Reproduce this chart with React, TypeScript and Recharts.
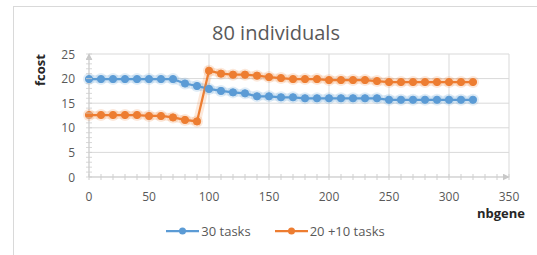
import { LineChart, Line, XAxis, YAxis, ReferenceLine, Legend } from 'recharts';

const nbgene = [0, 10, 20, 30, 40, 50, 60, 70, 80, 90, 100, 110, 120, 130, 140, 150, 160,
  170, 180, 190, 200, 210, 220, 230, 240, 250, 260, 270, 280, 290, 300, 310, 320];

const tasks30 = [19.9, 19.9, 19.9, 19.9, 19.9, 19.9, 19.9, 19.9, 19.0, 18.5, 17.9, 17.5, 17.2,
  17.0, 16.4, 16.4, 16.2, 16.2, 16.0, 16.0, 16.0, 16.0, 16.0, 16.0, 16.0, 15.7, 15.7, 15.7,
  15.7, 15.7, 15.7, 15.7, 15.7];

const tasks20plus10 = [12.6, 12.6, 12.6, 12.6, 12.6, 12.4, 12.4, 12.1, 11.6, 11.3, 21.6, 21.0,
  20.8, 20.8, 20.6, 20.3, 20.1, 19.9, 19.9, 19.9, 19.7, 19.7, 19.7, 19.7, 19.5, 19.3, 19.3,
  19.3, 19.3, 19.3, 19.3, 19.3, 19.3];

const seriesNames = ['30 tasks', '20 +10 tasks'];

const xMajorTicks = [0, 50, 100, 150, 200, 250, 300, 350];
const xMinorTicks = [0, 10, 20, 30, 40, 50, 60, 70, 80, 90, 100, 110, 120, 130, 140, 150, 160,
  170, 180, 190, 200, 210, 220, 230, 240, 250, 260, 270, 280, 290, 300, 310, 320, 330, 340, 350];
const yMajorTicks = [0, 5, 10, 15, 20, 25];
const yMinorTicks = [0, 1, 2, 3, 4, 5, 6, 7, 8, 9, 10, 11, 12, 13, 14, 15, 16, 17, 18, 19, 20,
  21, 22, 23, 24, 25];

const BLUE = '#5b9bd5';
const ORANGE = '#ed7d31';
const GRID = '#d9d9d9';
const AXIS = '#cfcfcf';
const TEXT = '#595959';
const FONT = '"Open Sans", "Liberation Sans", sans-serif';

const data = nbgene.map((g, i) => ({ nbgene: g, a: tasks30[i], b: tasks20plus10[i] }));

function XTick({ x, y, payload }: any) {
  const v = payload.value;
  const major = v % 50 === 0;
  return (
    <g>
      <line x1={x} x2={x} y1={y - 3} y2={y + 3} stroke={AXIS} strokeWidth={1} />
      {major && (
        <text x={x} y={y + 24} textAnchor="middle" fill={TEXT} fontSize={12} fontFamily={FONT}>
          {v}
        </text>
      )}
    </g>
  );
}

function YTick({ x, y, payload }: any) {
  const v = payload.value;
  const major = v % 5 === 0;
  return (
    <g>
      <line x1={x - 3} x2={x + 3} y1={y} y2={y} stroke={AXIS} strokeWidth={1} opacity={0.8} />
      {major && (
        <text x={x - 14} y={y + 4.5} textAnchor="end" fill={TEXT} fontSize={12} fontFamily={FONT}>
          {v}
        </text>
      )}
    </g>
  );
}

function renderLegend({ payload }: any) {
  // only the two real series, in the order of the reference
  const items = seriesNames
    .map((n) => (payload || []).find((p: any) => p.value === n))
    .filter(Boolean);
  return (
    <div style={{ display: 'flex', justifyContent: 'center', alignItems: 'center', height: 20, gap: 24, paddingLeft: 14 }}>
      {items.map((p: any) => (
        <div key={p.value} style={{ display: 'flex', alignItems: 'center' }}>
          <svg width={33} height={10}>
            <line x1={0} x2={33} y1={5} y2={5} stroke={p.color} strokeWidth={2.25} />
            <circle cx={16.5} cy={5} r={3.5} fill={p.color} />
          </svg>
          <span style={{ fontFamily: FONT, fontSize: 13, color: TEXT, marginLeft: 2 }}>{p.value}</span>
        </div>
      ))}
    </div>
  );
}

export default function App() {
  return (
    <div style={{ position: 'fixed', left: 0, top: 0, width: 537, height: 255, overflow: 'hidden', background: '#fff' }}>
      <div style={{ position: 'absolute', left: 13, top: 6, width: 600, height: 300, border: `1px solid ${GRID}` }} />
      <div style={{ position: 'absolute', left: 0, width: 552, top: 19, textAlign: 'center', fontFamily: FONT, fontSize: 20, color: TEXT, lineHeight: '28px' }}>
        80 individuals
      </div>
      <LineChart
        width={537}
        height={255}
        data={data}
        margin={{ top: 54, right: 28, left: 0, bottom: 28 }}
        style={{ position: 'absolute', left: 0, top: 0 }}
      >
        <defs>
          <marker id="arrowHead" viewBox="0 0 10 10" refX={9} refY={5} markerWidth={7} markerHeight={7}
            markerUnits="userSpaceOnUse" orient="auto-start-reverse">
            <path d="M0,0 L10,5 L0,10 z" fill="#c8c8c8" />
          </marker>
        </defs>
        {xMajorTicks.map((v) => (
          <ReferenceLine key={`gx-${v}`} x={v} stroke={GRID} strokeWidth={1} />
        ))}
        {yMajorTicks.map((v) => (
          <ReferenceLine key={`gy-${v}`} y={v} stroke={GRID} strokeWidth={1} />
        ))}
        <XAxis
          dataKey="nbgene"
          type="number"
          domain={[0, 350]}
          ticks={xMinorTicks}
          interval={0}
          tick={<XTick />}
          tickLine={false}
          tickSize={0}
          tickMargin={0}
          height={30}
          axisLine={{ stroke: AXIS, strokeWidth: 1, markerEnd: 'url(#arrowHead)' }}
          label={{
            content: ({ viewBox }: any) => (
              <text x={viewBox.x + viewBox.width + 16} y={viewBox.y + 41} textAnchor="end"
                fontFamily={FONT} fontSize={13} fontWeight="bold" fill="#262626">
                nbgene
              </text>
            ),
          }}
        />
        <YAxis
          type="number"
          domain={[0, 25]}
          ticks={yMinorTicks}
          interval={0}
          tick={<YTick />}
          tickLine={false}
          tickSize={0}
          tickMargin={0}
          width={89}
          axisLine={{ stroke: AXIS, strokeWidth: 1, markerStart: 'url(#arrowHead)' }}
          label={{
            content: () => (
              <text x={45} y={70} transform="rotate(-90 45 70)" textAnchor="middle"
                fontFamily={FONT} fontSize={13} fontWeight="bold" fill="#262626">
                fcost
              </text>
            ),
          }}
        />
        <Line dataKey="a" name="glow-a" stroke={BLUE} strokeOpacity={0.18} strokeWidth={8} legendType="none"
          dot={{ r: 6, fill: BLUE, fillOpacity: 0.18, stroke: 'none' }} activeDot={false} isAnimationActive={false} />
        <Line dataKey="b" name="glow-b" stroke={ORANGE} strokeOpacity={0.18} strokeWidth={8} legendType="none"
          dot={{ r: 6, fill: ORANGE, fillOpacity: 0.18, stroke: 'none' }} activeDot={false} isAnimationActive={false} />
        <Line dataKey="a" name="30 tasks" stroke={BLUE} strokeWidth={2.25}
          dot={{ r: 3.6, fill: BLUE, stroke: BLUE, strokeWidth: 1 }} activeDot={false} isAnimationActive={false} />
        <Line dataKey="b" name="20 +10 tasks" stroke={ORANGE} strokeWidth={2.25}
          dot={{ r: 3.6, fill: ORANGE, stroke: ORANGE, strokeWidth: 1 }} activeDot={false} isAnimationActive={false} />
        <Legend content={renderLegend} wrapperStyle={{ top: 221, left: 0, bottom: 'auto', width: 537, height: 20 }} />
      </LineChart>
    </div>
  );
}
